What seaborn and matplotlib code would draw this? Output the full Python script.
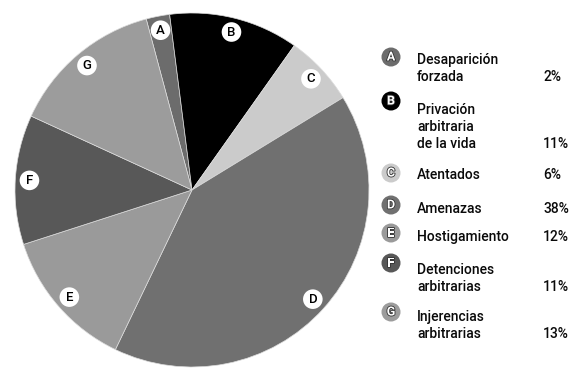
import matplotlib
matplotlib.use("Agg")
import matplotlib.pyplot as plt
import matplotlib.patheffects as pe
import seaborn as sns

# Data
letters = ["A", "B", "C", "D", "E", "F", "G"]
categories = [
    "Desaparición\nforzada",
    "Privación\narbitraria\nde la vida",
    "Atentados",
    "Amenazas",
    "Hostigamiento",
    "Detenciones\narbitrarias",
    "Injerencias\narbitrarias",
]
percentages = [2, 11, 6, 38, 12, 11, 13]
pct_labels = [f"{p}%" for p in percentages]

# Slice greys
colors = ["#6c6c6c", "#000000", "#cbcbcb", "#707070", "#9a9a9a", "#585858", "#9c9c9c"]

sns.set_theme(style="white")
plt.rcParams["font.family"] = ["Roboto", "DejaVu Sans"]

W, H = 573, 369
fig = plt.figure(figsize=(W / 100, H / 100), dpi=100)
fig.patch.set_facecolor("white")

# Pie axes: centre (192, 190) px, radius 177 px
cx, cy, r = 192, 190, 177
ax = fig.add_axes([(cx - r) / W, (H - cy - r) / H, 2 * r / W, 2 * r / H])
wedges, texts = ax.pie(
    percentages,
    labels=letters,
    colors=colors,
    startangle=105,
    counterclock=False,
    labeldistance=0.92,
    wedgeprops=dict(linewidth=0.5, edgecolor="#dcdcdc"),
    textprops=dict(fontsize=9.5, fontweight="medium", color="black"),
)
for t in texts:
    t.set_ha("center")
    t.set_va("center")
    t.set_bbox(dict(boxstyle="circle,pad=0.25", fc="white", ec="none"))
ax.set_xlim(-1, 1)
ax.set_ylim(-1, 1)
ax.set_aspect("equal")
ax.axis("off")

# Legend on the right
marker_y = [57, 101, 173, 205, 233, 263, 312]
first_line_y = [60, 110, 175, 209, 237, 270, 317]
line_step = 17
marker_x, text_x, pct_x = 391, 417, 543


def fx(px):
    return px / W


def fy(py):
    return 1 - py / H


for i, (let, cat, pct) in enumerate(zip(letters, categories, pct_labels)):
    fig.text(fx(marker_x), fy(marker_y[i]), let, ha="center", va="center",
             fontsize=9, fontweight="bold", color="white",
             path_effects=[pe.withStroke(linewidth=1.2, foreground="#333333")],
             bbox=dict(boxstyle="circle,pad=0.24", fc=colors[i], ec="none"))
    lines = cat.split("\n")
    for j, ln in enumerate(lines):
        fig.text(fx(text_x), fy(first_line_y[i] + j * line_step), ln,
                 ha="left", va="center", fontsize=10, fontweight="medium",
                 color="#0a0a0a")
    fig.text(fx(pct_x), fy(first_line_y[i] + (len(lines) - 1) * line_step), pct,
             ha="left", va="center", fontsize=10, fontweight="medium",
             color="#0a0a0a")

fig.savefig("out.png", dpi=100, facecolor="white")
